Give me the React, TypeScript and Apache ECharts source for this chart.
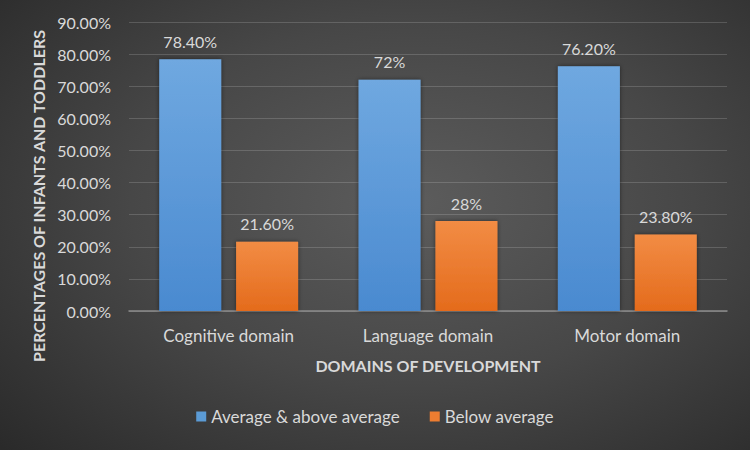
import React, { useEffect, useRef } from "react";
import * as echarts from "echarts";

const categories = ["Cognitive domain", "Language domain", "Motor domain"];
const aboveValues = [78.4, 72, 76.2];
const belowValues = [21.6, 28, 23.8];
const aboveLabels = ["78.40%", "72%", "76.20%"];
const belowLabels = ["21.60%", "28%", "23.80%"];
const seriesNames = ["Average & above average", "Below average"];
const yTitle = "PERCENTAGES OF INFANTS AND TODDLERS";
const xTitle = "DOMAINS OF DEVELOPMENT";

const FONT = "Lato, 'Open Sans', sans-serif";
const TEXT = "#d9d9d9";

export default function App() {
  const ref = useRef<HTMLDivElement>(null);
  useEffect(() => {
    document.body.style.margin = "0";
    const chart = echarts.init(ref.current!, null, { renderer: "svg" });
    const blue = new echarts.graphic.LinearGradient(0, 0, 0, 1, [
      { offset: 0, color: "#6fa8e0" },
      { offset: 1, color: "#4a8ad0" },
    ]);
    const orange = new echarts.graphic.LinearGradient(0, 0, 0, 1, [
      { offset: 0, color: "#f28c44" },
      { offset: 1, color: "#e46b1c" },
    ]);
    chart.setOption({
      animation: false,
      backgroundColor: "transparent",
      textStyle: { fontFamily: FONT },
      grid: { left: 129, right: 23, top: 22, bottom: 139 },
      legend: {
        bottom: 20,
        left: "center",
        itemWidth: 10,
        itemHeight: 10,
        itemGap: 30,
        icon: "rect",
        textStyle: { color: TEXT, fontSize: 17, fontFamily: FONT },
        data: [
          { name: seriesNames[0], itemStyle: { color: "#5b9bd5" } },
          { name: seriesNames[1], itemStyle: { color: "#ed7d31" } },
        ],
      },
      xAxis: {
        type: "category",
        data: categories,
        name: xTitle,
        nameLocation: "middle",
        nameGap: 46,
        nameTextStyle: { color: TEXT, fontSize: 16, fontWeight: "bold", fontFamily: FONT },
        axisTick: { show: false },
        axisLine: { lineStyle: { color: "#8c8c8c", width: 1.5 } },
        axisLabel: { color: TEXT, fontSize: 17, margin: 16, fontFamily: FONT },
      },
      yAxis: {
        type: "value",
        min: 0,
        max: 90,
        interval: 10,
        axisLine: { show: false },
        axisTick: { show: false },
        axisLabel: {
          color: TEXT,
          fontSize: 16,
          margin: 18,
          fontFamily: FONT,
          formatter: (v: number) => v.toFixed(2) + "%",
        },
        splitLine: { lineStyle: { color: "rgba(255,255,255,0.16)", width: 1 } },
      },
      graphic: [
        {
          type: "text",
          x: 38,
          y: 196,
          rotation: Math.PI / 2,
          style: {
            text: yTitle,
            fill: TEXT,
            fontSize: 16,
            fontWeight: "bold",
            fontFamily: FONT,
            align: "center",
            verticalAlign: "middle",
          },
        },
      ],
      series: [
        {
          name: seriesNames[0],
          type: "bar",
          data: aboveValues,
          barWidth: 62,
          barGap: "24%",
          itemStyle: { color: blue, shadowBlur: 4, shadowColor: "rgba(0,0,0,0.5)" },
          label: {
            show: true,
            position: "top",
            distance: 10,
            color: TEXT,
            fontSize: 16,
            fontFamily: FONT,
            formatter: (p: any) => aboveLabels[p.dataIndex],
          },
        },
        {
          name: seriesNames[1],
          type: "bar",
          data: belowValues,
          barWidth: 62,
          itemStyle: { color: orange, shadowBlur: 4, shadowColor: "rgba(0,0,0,0.5)" },
          label: {
            show: true,
            position: "top",
            distance: 10,
            color: TEXT,
            fontSize: 16,
            fontFamily: FONT,
            formatter: (p: any) => belowLabels[p.dataIndex],
          },
        },
      ],
    });
    return () => chart.dispose();
  }, []);
  return (
    <div
      style={{
        position: "absolute",
        left: 0,
        top: 0,
        width: 750,
        height: 450,
        background:
          "radial-gradient(ellipse 75% 80% at 55% 45%, #5c5c5c 0%, #474747 50%, #2a2a2a 100%)",
      }}
    >
      <div ref={ref} style={{ width: 750, height: 450 }} />
    </div>
  );
}
